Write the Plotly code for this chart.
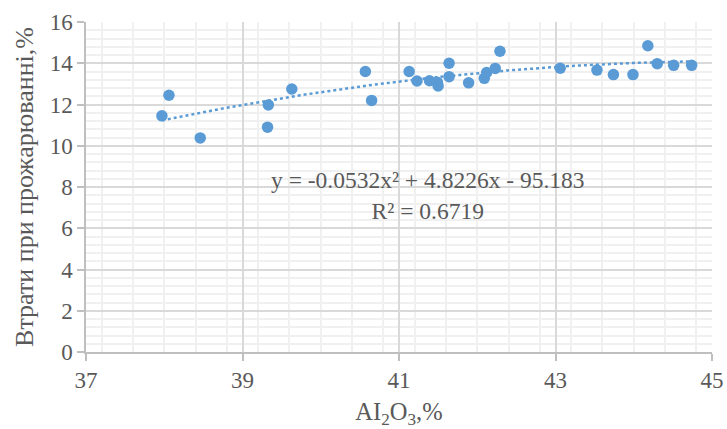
import numpy as np
import plotly.graph_objects as go

# Data
al2o3 = [37.97, 38.06, 38.46, 39.33, 39.32, 39.63, 40.57, 40.65, 41.13, 41.23,
         41.39, 41.49, 41.50, 41.64, 41.64, 41.89, 42.09, 42.12, 42.23, 42.29,
         43.06, 43.53, 43.74, 43.99, 44.18, 44.30, 44.51, 44.74]
loss = [11.45, 12.45, 10.38, 11.98, 10.90, 12.75, 13.60, 12.20, 13.60, 13.14,
        13.15, 13.08, 12.90, 14.00, 13.35, 13.05, 13.27, 13.55, 13.75, 14.58,
        13.76, 13.67, 13.45, 13.45, 14.85, 13.98, 13.90, 13.90]
# Trendline coefficients shown on the chart (a2, a1, a0)
trend_coefs = [-0.0532, 4.8226, -95.183]
r_squared = 0.6719
x_ticks = [37, 39, 41, 43, 45]
y_ticks = [0, 2, 4, 6, 8, 10, 12, 14, 16]

FONT = "Liberation Serif"
TXT = "#595959"
BLUE = "#5B9BD5"

tx = np.linspace(min(al2o3), max(al2o3), 200)
ty = np.polyval(trend_coefs, tx)

fig = go.Figure()
fig.add_trace(go.Scatter(x=tx, y=ty, mode="lines",
                         line=dict(color=BLUE, width=2.5, dash="dot"),
                         hoverinfo="skip", showlegend=False))
fig.add_trace(go.Scatter(x=al2o3, y=loss, mode="markers",
                         marker=dict(color=BLUE, size=11.5),
                         showlegend=False))

eq = (f"y = {trend_coefs[0]}x² + {trend_coefs[1]}x - {abs(trend_coefs[2])}"
      f"<br>R² = {r_squared}")
fig.add_annotation(x=41.37, y=7.6, xref="x", yref="y", text=eq, showarrow=False,
                   align="center", xanchor="center", yanchor="middle",
                   font=dict(family=FONT, size=23.5, color=TXT))

axis_common = dict(
    showline=True, linecolor="#bfbfbf", linewidth=1.5,
    ticks="outside", ticklen=7, tickcolor="#bfbfbf", tickwidth=1.5,
    gridcolor="#d9d9d9", gridwidth=1.5,
    minor=dict(dtick=0.4, showgrid=True, gridcolor="#f0f0f0", gridwidth=1.5, ticks=""),
    tickfont=dict(family=FONT, size=23, color=TXT),
    zeroline=False, automargin=False,
)

fig.update_xaxes(range=[37, 45], tickvals=x_ticks, **axis_common,
                 title=dict(text="AI<sub>2</sub>O<sub>3</sub>,%", standoff=13,
                            font=dict(family=FONT, size=24.5, color=TXT)))
fig.update_yaxes(range=[0, 16], tickvals=y_ticks, **axis_common,
                 title=dict(text="Втрати при прожарюванні,%", standoff=9,
                            font=dict(family=FONT, size=26, color=TXT)))

fig.update_layout(width=727, height=429,
                  font=dict(family=FONT, color=TXT),
                  margin=dict(l=86, r=15, t=22, b=77),
                  plot_bgcolor="white", paper_bgcolor="white")

fig.write_html("out.html", config={"displayModeBar": False},
               post_script="document.body.style.margin='0';")
